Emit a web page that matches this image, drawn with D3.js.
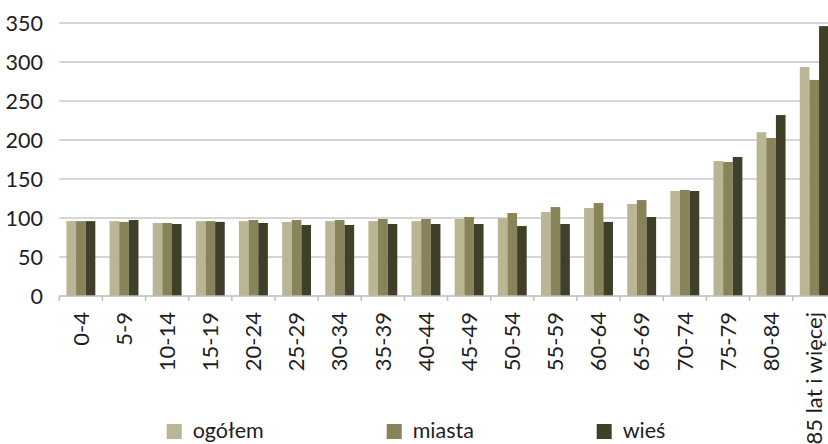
<!DOCTYPE html>
<html><head><meta charset="utf-8">
<script src="https://cdn.jsdelivr.net/npm/d3@7/dist/d3.min.js"></script>
<style>body{margin:0;background:#fff}svg{display:block}text{font-family:Lato,"Open Sans",sans-serif;fill:#1e1e1e}</style>
</head><body><svg id="c" width="828" height="444"></svg>
<script>
const categories = ["0-4","5-9","10-14","15-19","20-24","25-29","30-34","35-39","40-44","45-49","50-54","55-59","60-64","65-69","70-74","75-79","80-84","85 lat i więcej"];
const seriesNames = ["ogółem","miasta","wieś"];
const ogolem = [96,96,93.6,96,96,95,96,96,96,98.7,100,107.7,112.8,118,134.6,173,210,293.5];
const miasta = [96,95,93.6,96,97.4,97.4,97.4,98.7,98.7,101.3,106.4,114,119.2,123,136,171.8,202.6,277];
const wies = [96,97.4,92.3,95,93.6,91,91,92.3,92.3,92.3,89.7,92.3,95,101.3,134.6,178.2,232,346];
const yTicks = [0,50,100,150,200,250,300,350];
const colors = ["#bab592","#888358","#40402a"];

const svg = d3.select("#c");
const values = [ogolem, miasta, wies];
const x0 = d3.scaleBand().domain(categories).range([59.3, 835.8]).paddingInner(0.33).paddingOuter(0.165);
const xEdge = d3.scaleBand().domain(categories).range([59.3, 835.8]).padding(0);
const x1 = d3.scaleBand().domain(seriesNames).range([0, x0.bandwidth()]).padding(0);
const y = d3.scaleLinear().domain([0,350]).range([296, 23]);

svg.append("g").selectAll("line").data(yTicks.filter(d=>d>0)).join("line")
  .attr("x1",59.3).attr("x2",828).attr("y1",d=>y(d)).attr("y2",d=>y(d))
  .attr("stroke","#c9c9c9").attr("stroke-width",1.5);

svg.append("g").selectAll("text").data(yTicks).join("text")
  .attr("x",43).attr("y",d=>y(d)).attr("dy","0.35em").attr("text-anchor","end")
  .attr("font-size",21.5).text(d=>d);

const g = svg.append("g");
categories.forEach((c,i)=>{
  seriesNames.forEach((s,j)=>{
    g.append("rect").attr("x",x0(c)+x1(s)).attr("width",x1.bandwidth())
      .attr("y",y(values[j][i])).attr("height",y(0)-y(values[j][i])).attr("fill",colors[j]);
  });
});

svg.append("line").attr("x1",59.3).attr("x2",828).attr("y1",y(0)).attr("y2",y(0)).attr("stroke","#bdbdbd").attr("stroke-width",1.5);
svg.append("g").selectAll("line").data(categories).join("line")
  .attr("x1",d=>xEdge(d)).attr("x2",d=>xEdge(d)).attr("y1",y(0)).attr("y2",y(0)+5)
  .attr("stroke","#bdbdbd").attr("stroke-width",1.5);

svg.append("g").selectAll("text").data(categories).join("text")
  .attr("transform",d=>`translate(${x0(d)+x0.bandwidth()/2},312) rotate(-90)`)
  .attr("dy","0.35em").attr("text-anchor","end").attr("font-size",22).text(d=>d);

const legX = [166.7, 386.7, 596.7];
const leg = svg.append("g");
seriesNames.forEach((s,j)=>{
  leg.append("rect").attr("x",legX[j]).attr("y",424).attr("width",15).attr("height",15).attr("fill",colors[j]);
  leg.append("text").attr("x",legX[j]+26).attr("y",430).attr("dy","0.35em").attr("font-size",21.5).text(s);
});
</script></body></html>
